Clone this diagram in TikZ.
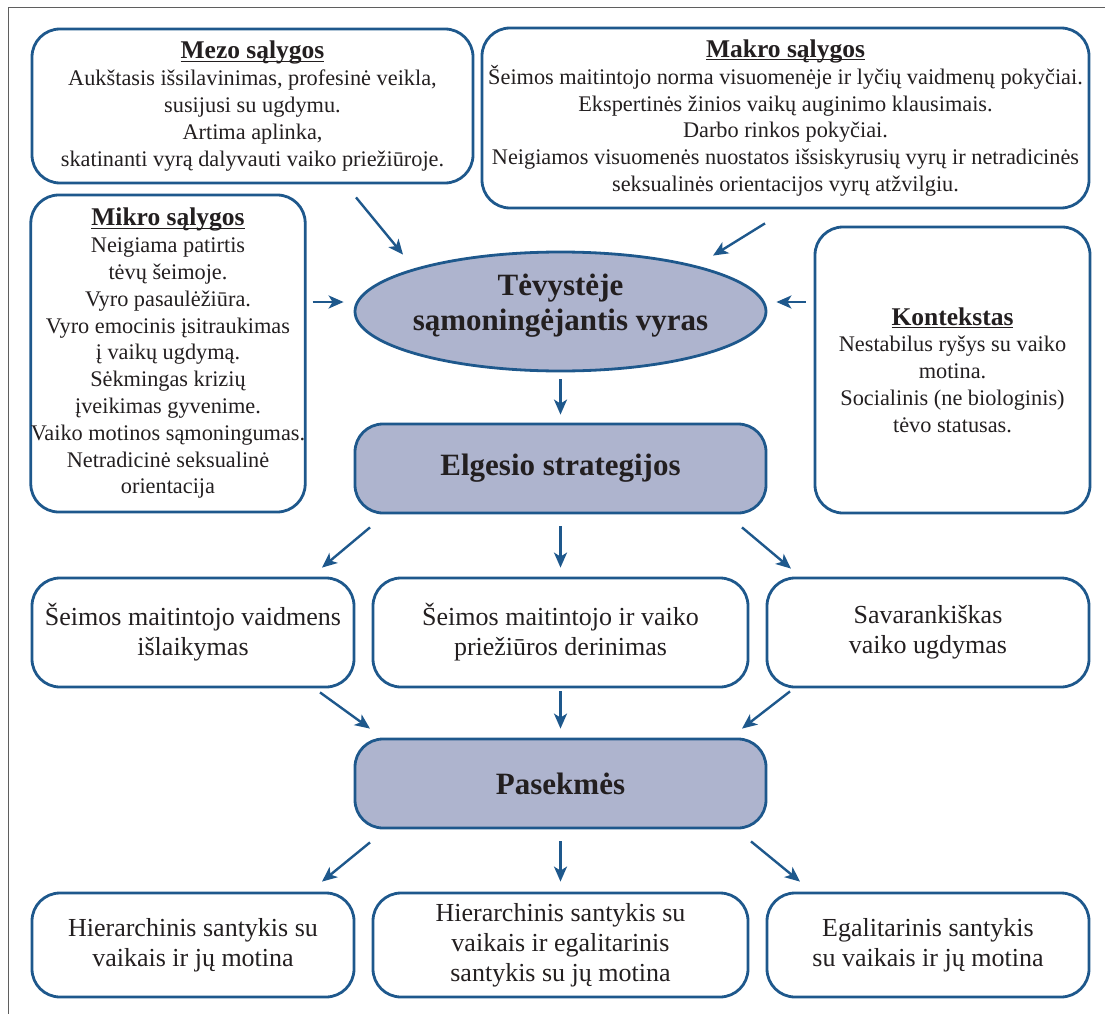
\documentclass[tikz,border=0pt]{standalone}
\usepackage{fontspec}
\setmainfont{Liberation Serif}
\usetikzlibrary{arrows.meta,shapes.geometric,calc}
\definecolor{lineblue}{RGB}{30,88,140}
\definecolor{boxfill}{RGB}{174,180,206}
\definecolor{inkblack}{RGB}{35,31,32}
\definecolor{framegray}{RGB}{95,95,95}
\newcommand{\heading}[1]{{\fontsize{25.5pt}{26.8pt}\selectfont\bfseries\setbox0\hbox{#1}\rlap{\rule[-3pt]{\wd0}{1.3pt}}\box0}}
\newcommand{\lift}[1]{\raisebox{6pt}[\height][\depth]{#1}}
\tikzset{
 infobox/.style={draw=lineblue,line width=2.8pt,rounded corners=28pt,fill=white,align=center,inner sep=0pt,text=inkblack,font=\fontsize{22.3pt}{26.8pt}\selectfont},
 pathbox/.style={infobox,font=\fontsize{26pt}{30pt}\selectfont},
 mainbox/.style={infobox,fill=boxfill,font=\fontsize{31pt}{35pt}\selectfont\bfseries},
 flow/.style={draw=lineblue,line width=2.4pt,-{Stealth[length=15pt,width=13pt,inset=4pt]}}
}
\begin{document}
\begin{tikzpicture}[x=1pt,y=-1pt]
\useasboundingbox (0,0) rectangle (1105,1014);
%outer frame
\draw[framegray,line width=1.5pt](8.5,1014)--(8.5,7.5)--(1105,7.5);
%conditions
\node[infobox,minimum width=441pt,minimum height=154pt](mezo)at(252.5,106){\heading{Mezo sąlygos}\\Aukštasis išsilavinimas, profesinė veikla,\\susijusi su ugdymu.\\Artima aplinka,\\skatinanti vyrą dalyvauti vaiko priežiūroje.};
\node[infobox,minimum width=607pt,minimum height=180pt](makro)at(785.5,118){\heading{Makro sąlygos}\\Šeimos maitintojo norma visuomenėje ir lyčių vaidmenų pokyčiai.\\Ekspertinės žinios vaikų auginimo klausimais.\\Darbo rinkos pokyčiai.\\Neigiamos visuomenės nuostatos išsiskyrusių vyrų ir netradicinės\\seksualinės orientacijos vyrų atžvilgiu.};
\node[infobox,minimum width=272pt,minimum height=317pt](mikro)at(168,353.5){\heading{Mikro sąlygos}\\Neigiama patirtis\\tėvų šeimoje.\\Vyro pasaulėžiūra.\\Vyro emocinis įsitraukimas\\į vaikų ugdymą.\\Sėkmingas krizių\\įveikimas gyvenime.\\Vaiko motinos sąmoningumas.\\Netradicinė seksualinė\\orientacija};
\node[infobox,minimum width=275pt,minimum height=286pt](kont)at(952.5,370){\heading{Kontekstas}\\Nestabilus ryšys su vaiko\\motina.\\Socialinis (ne biologinis)\\tėvo statusas.};
%central column
\node[mainbox,ellipse,inner xsep=-6pt,minimum width=411pt,minimum height=119pt](vyras)at(560.5,311.5){\lift{Tėvystėje}\\\lift{sąmoningėjantis vyras}};
\node[mainbox,minimum width=411pt,minimum height=89pt](elg)at(560.5,468.5){Elgesio strategijos};
\node[mainbox,minimum width=411pt,minimum height=89pt](pas)at(560.5,783.5){Pasekmės};
%strategies
\node[pathbox,minimum width=322pt,minimum height=109pt](strl)at(193,632.5){Šeimos maitintojo vaidmens\\išlaikymas};
\node[pathbox,minimum width=375pt,minimum height=109pt](strm)at(560.5,632.5){Šeimos maitintojo ir vaiko\\priežiūros derinimas};
\node[pathbox,minimum width=322pt,minimum height=109pt](strr)at(928,632.5){Savarankiškas\\vaiko ugdymas};
%outcomes
\node[pathbox,minimum width=322pt,minimum height=104pt](resl)at(193,945){Hierarchinis santykis su\\vaikais ir jų motina};
\node[pathbox,minimum width=375pt,minimum height=104pt](resm)at(560.5,945){Hierarchinis santykis su\\vaikais ir egalitarinis\\santykis su jų motina};
\node[pathbox,minimum width=322pt,minimum height=104pt](resr)at(928,945){Egalitarinis santykis\\su vaikais ir jų motina};
%arrows into the ellipse
\draw[flow]($(mezo.south)+(103.5,13)$)--($(vyras.north)+(-157.5,4)$);
\draw[flow]($(makro.south)+(-20.5,14)$)--($(vyras.north)+(152.5,5)$);
\draw[flow]($(mikro.east)+(6,-51.5)$)--($(vyras.west)+(-10,-9.5)$);
\draw[flow]($(kont.west)+(-8,-68)$)--($(vyras.east)+(9,-9.5)$);
\draw[flow,shorten <=7pt,shorten >=8pt](vyras)--(elg);
%strategies
\draw[flow]($(elg.south)+(-190.5,13)$)--($(strl.north)+(129,-9)$);
\draw[flow,shorten <=12pt,shorten >=9pt](elg)--(strm);
\draw[flow]($(elg.south)+(181.5,13)$)--($(strr.north)+(-137,-8)$);
\draw[flow]($(strl.south)+(127,4)$)--($(pas.north)+(-190.5,-9)$);
\draw[flow,shorten <=3pt,shorten >=9pt](strm)--(pas);
\draw[flow]($(strr.south)+(-138,3)$)--($(pas.north)+(181.5,-9)$);
%outcomes
\draw[flow]($(pas.south)+(-190.5,13)$)--($(resl.north)+(129,-10)$);
\draw[flow,shorten <=12pt,shorten >=10pt](pas)--(resm);
\draw[flow]($(pas.south)+(190.5,12)$)--($(resr.north)+(-128,-10)$);
\end{tikzpicture}
\end{document}
